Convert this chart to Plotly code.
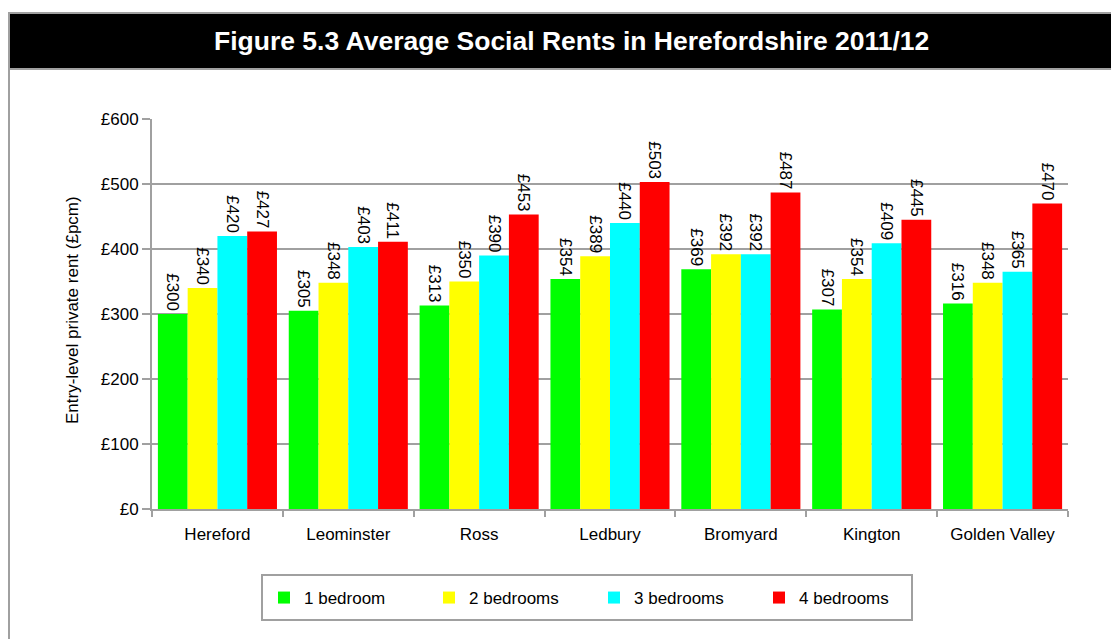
import plotly.graph_objects as go

areas = ["Hereford", "Leominster", "Ross", "Ledbury", "Bromyard", "Kington", "Golden Valley"]
series_names = ["1 bedroom", "2 bedrooms", "3 bedrooms", "4 bedrooms"]
one_bed = [300, 305, 313, 354, 369, 307, 316]
two_bed = [340, 348, 350, 389, 392, 354, 348]
three_bed = [420, 403, 390, 440, 392, 409, 365]
four_bed = [427, 411, 453, 503, 487, 445, 470]
colors = ["#00FF00", "#FFFF00", "#00FFFF", "#FF0000"]
y_ticks = [0, 100, 200, 300, 400, 500, 600]
y_tick_labels = ["£0", "£100", "£200", "£300", "£400", "£500", "£600"]

# page body has an 8px margin; work in page coordinates and convert
OFF = 8
W, H = 1119 - OFF, 639 - OFF
plot_l, plot_r, plot_t, plot_b = 152, 1068, 119, 509
ml, mr = plot_l - OFF, (1119 - plot_r)
mt, mb = plot_t - OFF, (639 - plot_b)
pw, ph = W - ml - mr, H - mt - mb
FONT = "Liberation Sans, Arial"
GRAY = "#A0A0A0"

def px(x):
    return (x - plot_l) / pw

def py(y):
    return (plot_b - y) / ph

fig = go.Figure()
for name, vals, col in zip(series_names, [one_bed, two_bed, three_bed, four_bed], colors):
    fig.add_trace(go.Bar(
        x=areas, y=vals, name=name, marker=dict(color=col, line=dict(width=0)),
        text=["£%d" % v for v in vals], textposition="outside", textangle=90,
        constraintext="none",
        textfont=dict(family=FONT, size=17, color="black"),
        cliponaxis=False,
    ))

fig.update_layout(
    width=W, height=H,
    margin=dict(l=ml, r=mr, t=mt, b=mb),
    paper_bgcolor="white", plot_bgcolor="white",
    barmode="group", bargap=0.09, bargroupgap=0,
    font=dict(family=FONT, size=17, color="black"),
    showlegend=True,
    legend=dict(
        orientation="h", x=px(264), y=py(598), xanchor="left", yanchor="middle",
        borderwidth=0, bgcolor="rgba(0,0,0,0)",
        entrywidth=120, font=dict(size=17),
        itemclick=False, itemdoubleclick=False,
    ),
    xaxis=dict(
        showgrid=False, showline=True, linecolor=GRAY, linewidth=2,
        ticks="outside", tickson="boundaries", ticklen=6, tickcolor=GRAY, tickwidth=2,
        tickfont=dict(size=17), ticklabelstandoff=9,
    ),
    yaxis=dict(
        range=[0, 600], tickvals=y_ticks, ticktext=y_tick_labels,
        showgrid=True, gridcolor=GRAY, gridwidth=2,
        showline=True, linecolor=GRAY, linewidth=2,
        ticks="outside", ticklen=8, tickcolor=GRAY, tickwidth=2,
        tickfont=dict(size=17), zeroline=False,
    ),
    shapes=[
        dict(type="rect", xref="paper", yref="paper", x0=px(9), x1=px(1130), y0=py(650), y1=py(13),
             line=dict(color=GRAY, width=2), fillcolor="rgba(0,0,0,0)", layer="below"),
        dict(type="rect", xref="paper", yref="paper", x0=px(9), x1=px(1130), y0=py(69), y1=py(13),
             line=dict(color=GRAY, width=2), fillcolor="black", layer="above"),
        dict(type="rect", xref="paper", yref="paper", x0=px(262), x1=px(912), y0=py(620), y1=py(575),
             line=dict(color=GRAY, width=2), fillcolor="white", layer="below"),
    ],
    annotations=[
        dict(text="<b>Figure 5.3 Average Social Rents in Herefordshire 2011/12</b>",
             xref="paper", yref="paper", x=px(571), y=py(41), showarrow=False,
             xanchor="center", yanchor="middle",
             font=dict(family=FONT, size=26.5, color="white")),
        dict(text="Entry-level private rent (£pcm)",
             xref="paper", yref="paper", x=px(72), y=py(310), showarrow=False,
             xanchor="center", yanchor="middle", textangle=-90,
             font=dict(family=FONT, size=17, color="black")),
    ],
)

fig.write_html("out.html")
